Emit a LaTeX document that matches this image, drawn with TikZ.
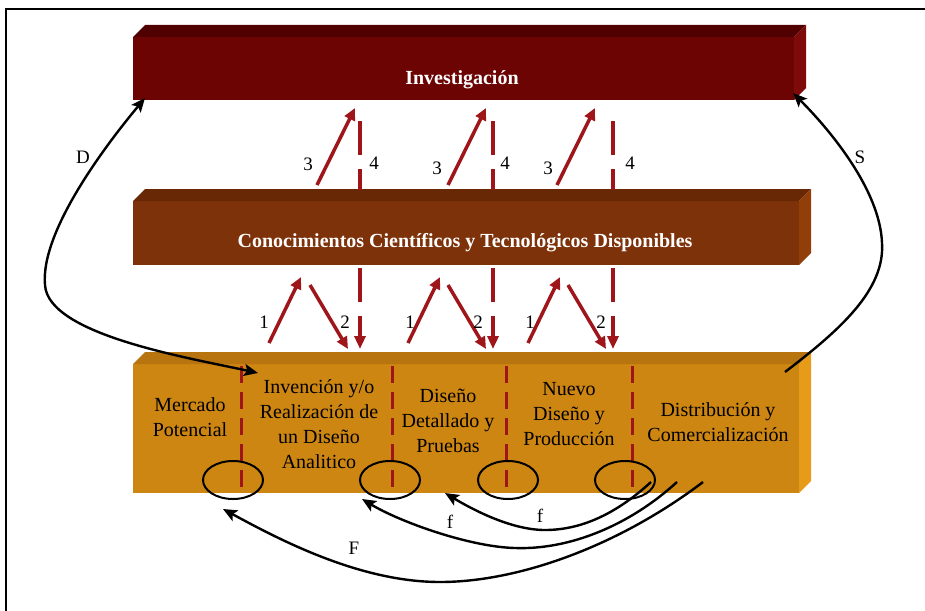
\documentclass[tikz,border=0pt]{standalone}
\usepackage{fontspec}
\setmainfont{Liberation Serif}
\usetikzlibrary{arrows.meta}

% bar colours: front face, top face, side face
\definecolor{invFront}{RGB}{108,4,4}
\definecolor{invTop}{RGB}{80,0,0}
\definecolor{invSide}{RGB}{126,10,10}
\definecolor{conFront}{RGB}{125,50,10}
\definecolor{conTop}{RGB}{104,40,6}
\definecolor{conSide}{RGB}{146,62,8}
\definecolor{proFront}{RGB}{205,134,18}
\definecolor{proTop}{RGB}{184,116,14}
\definecolor{proSide}{RGB}{230,156,24}
\definecolor{flowred}{RGB}{158,22,26}

% a bevelled bar: #1,#2 = top-left, #3,#4 = bottom-right, #5 = colour prefix
\newcommand\bevelbar[5]{%
  \fill[#5Front] (#1,#2+12) rectangle (#3-12,#4);
  \fill[#5Top] (#1,#2+12) -- (#1+12,#2) -- (#3,#2) -- (#3-12,#2+12) -- cycle;
  \fill[#5Side] (#3-12,#2+12) -- (#3,#2) -- (#3,#4-12) -- (#3-12,#4) -- cycle;}

\tikzset{
  redarrow/.style={draw=flowred, line width=3.5pt, -{Triangle[length=12pt,width=11pt]}},
  reddash/.style={draw=flowred, line width=3.5pt, dash pattern=on 34pt off 14pt},
  divider/.style={draw=flowred, line width=3pt, dash pattern=on 17pt off 9pt},
  feedback/.style={draw=black, line width=2.4pt, -{Stealth[length=14pt,width=12pt,inset=3pt]}},
  ring/.style={draw=black, line width=2pt},
  bartitle/.style={text=white, font=\fontsize{20}{24}\selectfont\bfseries},
  stage/.style={text=black, align=center, font=\fontsize{20}{25}\selectfont},
  lbl/.style={text=black, font=\fontsize{19}{22}\selectfont, inner sep=0pt},
}

\begin{document}
\begin{tikzpicture}[x=1pt,y=-1pt]
\useasboundingbox (0,0) rectangle (925,610);
\fill[white] (0,0) rectangle (925,610);
\clip (0,0) rectangle (925,610);

% outer frame
\draw[line width=2pt] (5.5,640) -- (5.5,9.5) -- (960,9.5);

% the three bars
\bevelbar{133}{25}{806}{100}{inv}
\bevelbar{133}{189}{811}{265}{con}
\bevelbar{133}{352}{811}{493}{pro}

\node[bartitle] (inv) at (462,80) {Investigación};
\node[bartitle] (con) at (465,243) {Conocimientos Científicos y Tecnológicos Disponibles};

% stages of the process
\node[stage] (mercado) at (190,417) {Mercado\\Potencial};
\node[stage] (invencion) at (319,424) {Invención y/o\\Realización de\\un Diseño\\Analitico};
\node[stage] (diseno) at (448,421) {Diseño\\Detallado y\\Pruebas};
\node[stage] (nuevo) at (569,414) {Nuevo\\Diseño y\\Producción};
\node[stage] (distrib) at (718,422) {Distribución y\\Comercialización};

% stage dividers and the rings at their feet
\foreach \x [count=\i] in {241,392,506,632}{
  \coordinate (dtop\i) at (\x,366);
  \coordinate (dbot\i) at (\x,493);
  \draw[divider] (dtop\i) -- (dbot\i);
}
\foreach \x [count=\i] in {233,390,508,625}
  \draw[ring] (\x,480) ellipse [x radius=30, y radius=19];

% links between the bars
\foreach \dx [count=\i] in {0,131,240}{
  % 3: up to Investigación
  \coordinate (r3s\i) at (317+\dx,185);
  \coordinate (r3e\i) at (355+\dx,108);
  \draw[redarrow] (r3s\i) -- (r3e\i);
}
\foreach \x/\i in {360/1,493/2,613/3}{
  \coordinate (r4s\i) at (\x,121);
  \coordinate (r4e\i) at (\x,190);
  \draw[reddash] (r4s\i) -- (r4e\i);
  \coordinate (r2s\i) at (\x,268);
  \coordinate (r2e\i) at (\x,349);
  \draw[reddash, -{Triangle[length=13pt,width=11pt]}] (r2s\i) -- (r2e\i);
}
\foreach \ax/\bx [count=\i] in {269/310,408/448,528/568}{
  \coordinate (r1s\i) at (\ax,343);
  \coordinate (r1e\i) at (\ax+32,277);
  \draw[redarrow] (r1s\i) -- (r1e\i);
  \coordinate (rds\i) at (\bx,285);
  \coordinate (rde\i) at (\bx+38,349);
  \draw[redarrow] (rds\i) -- (rde\i);
}

% number labels
\node[lbl] (n3a) at (308,164) {3};
\node[lbl] (n3b) at (437,168) {3};
\node[lbl] (n3c) at (548,168) {3};
\node[lbl] (n4a) at (374,163) {4};
\node[lbl] (n4b) at (505,163) {4};
\node[lbl] (n4c) at (630,163) {4};
\node[lbl] (n1a) at (264,322) {1};
\node[lbl] (n1b) at (410,322) {1};
\node[lbl] (n1c) at (530,322) {1};
\node[lbl] (n2a) at (345,322) {2};
\node[lbl] (n2b) at (478,322) {2};
\node[lbl] (n2c) at (601,322) {2};

% D: market to research, both ways
\coordinate (Dtop) at (145,98);
\coordinate (Dmid) at (45,285);
\coordinate (Dbot) at (258,373);
\draw[feedback, {Stealth[length=14pt,width=12pt,inset=3pt]}-{Stealth[length=14pt,width=12pt,inset=3pt]}]
  (Dtop) .. controls (110,140) and (40,230) .. (Dmid)
         .. controls (48,335) and (190,358) .. (Dbot);
\node[lbl] (lD) at (83,157) {D};

% S: distribution back to research
\coordinate (Sbot) at (785,372);
\coordinate (Smid) at (882,243);
\coordinate (Stop) at (793,93);
\draw[feedback] (Sbot) .. controls (840,330) and (885,290) .. (Smid)
                       .. controls (880,190) and (830,130) .. (Stop);
\node[lbl] (lS) at (860,157) {S};

% f and F: feedback loops under the bar
\coordinate (fs1) at (651,482);
\coordinate (fm1) at (545,530);
\coordinate (fe1) at (445,493);
\draw[feedback] (fs1) .. controls (615,515) and (580,530) .. (fm1)
                      .. controls (510,530) and (470,508) .. (fe1);
\node[lbl] (lf1) at (540,516) {f};

\coordinate (fs2) at (677,482);
\coordinate (fm2) at (515,548);
\coordinate (fe2) at (362,499);
\draw[feedback] (fs2) .. controls (630,525) and (570,550) .. (fm2)
                      .. controls (470,547) and (400,522) .. (fe2);
\node[lbl] (lf2) at (450,522) {f};

\coordinate (Fs) at (703,482);
\coordinate (Fm) at (440,582);
\coordinate (Fe) at (223,509);
\draw[feedback] (Fs) .. controls (620,545) and (520,582) .. (Fm)
                     .. controls (360,582) and (280,540) .. (Fe);
\node[lbl] (lF) at (354,548) {F};
\end{tikzpicture}
\end{document}
